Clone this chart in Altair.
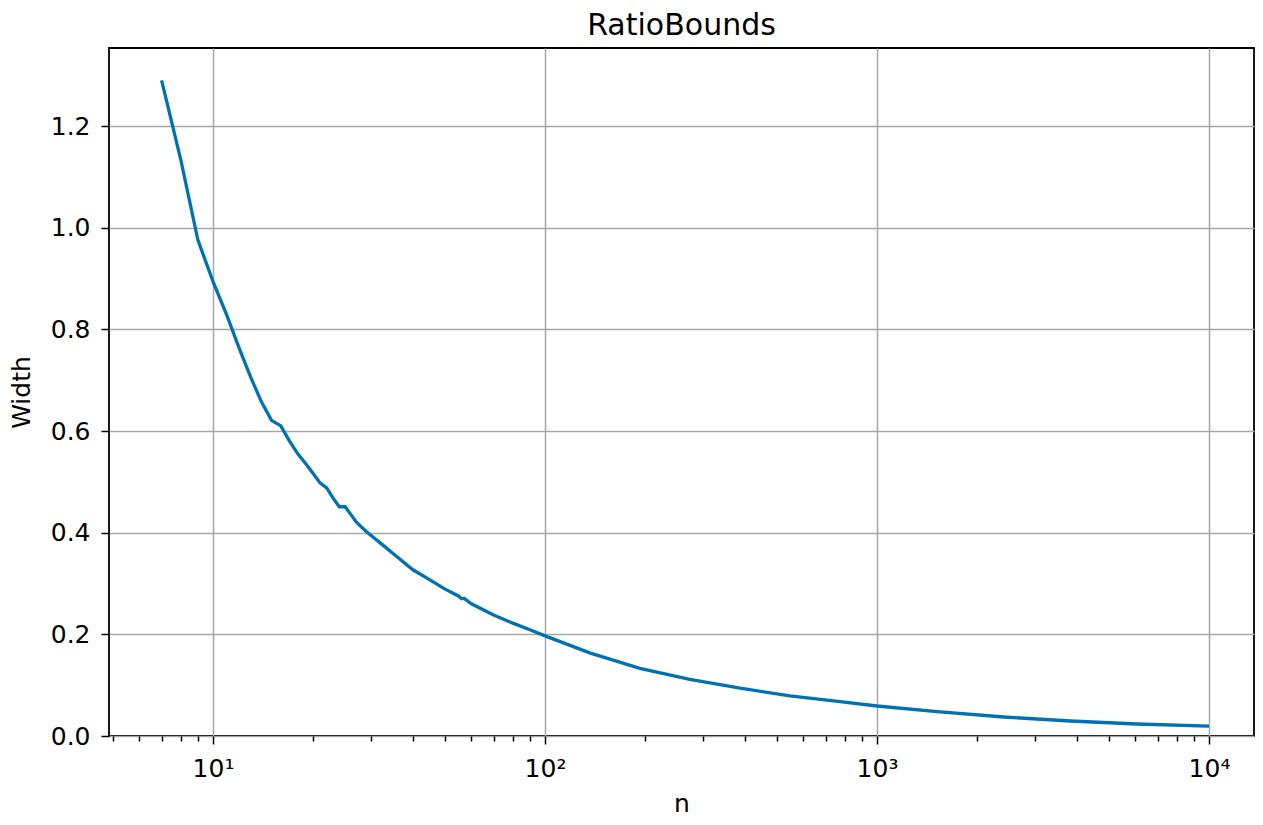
import altair as alt
import pandas as pd

# sample size n and interval width
n_values = [7, 8, 9, 10, 11, 12, 13, 14, 15, 16, 17, 18, 19, 20, 21, 22, 23, 24, 25,
            26, 27, 28, 29, 30, 32, 35, 40, 45, 50, 55, 56, 57, 60, 70, 80, 90, 100,
            137, 193, 273, 387, 547, 774, 1000, 1517, 2408, 3823, 6070, 10000]
widths = [1.290, 1.133, 0.976, 0.894, 0.828, 0.762, 0.705, 0.657, 0.621, 0.610,
          0.580, 0.555, 0.536, 0.517, 0.498, 0.488, 0.468, 0.451, 0.451, 0.436,
          0.421, 0.411, 0.402, 0.394, 0.379, 0.358, 0.327, 0.307, 0.289, 0.275,
          0.270, 0.271, 0.260, 0.238, 0.222, 0.209, 0.197,
          0.163, 0.133, 0.1115, 0.094, 0.079, 0.0675, 0.059, 0.048, 0.0374, 0.0295,
          0.0236, 0.0195]

major_ticks = [10, 100, 1000, 10000]
minor_ticks = [5, 6, 7, 8, 9, 20, 30, 40, 50, 60, 70, 80, 90,
               200, 300, 400, 500, 600, 700, 800, 900,
               2000, 3000, 4000, 5000, 6000, 7000, 8000, 9000]
y_ticks = [0.0, 0.2, 0.4, 0.6, 0.8, 1.0, 1.2]

df = pd.DataFrame({"n": n_values, "w": widths})

FONT = "DejaVu Sans"
major_test = "indexof([10,100,1000,10000], datum.value) >= 0"

x_axis = alt.Axis(
    values=sorted(major_ticks + minor_ticks),
    labelExpr="datum.value==10?'10¹':datum.value==100?'10²':datum.value==1000?'10³':datum.value==10000?'10⁴':''",
    tickSize={"condition": {"test": major_test, "value": 8}, "value": 5},
    gridOpacity={"condition": {"test": major_test, "value": 1}, "value": 0},
    grid=True,
    gridColor="#a8a8a8",
    gridWidth=1.5,
    domain=False,
    tickColor="black",
    tickWidth=1.5,
    labelFont=FONT,
    labelFontSize=25,
    labelColor="black",
    labelPadding=12,
    labelFlush=False,
    labelOverlap=False,
    titleFont=FONT,
    titleFontSize=25,
    titleFontWeight="normal",
    titleColor="black",
    titlePadding=10,
)

y_axis = alt.Axis(
    values=y_ticks,
    format=".1f",
    grid=True,
    gridColor="#a8a8a8",
    gridWidth=1.5,
    domain=False,
    tickColor="black",
    tickWidth=1.5,
    tickSize=8,
    labelFont=FONT,
    labelFontSize=25,
    labelColor="black",
    labelPadding=11,
    labelFlush=False,
    titleFont=FONT,
    titleFontSize=25,
    titleFontWeight="normal",
    titleColor="black",
    titlePadding=16,
)

chart = (
    alt.Chart(df)
    .mark_line(color="#0072B2", strokeWidth=3.3, clip=True)
    .encode(
        x=alt.X("n:Q", title="n",
                scale=alt.Scale(type="log", domain=[4.86, 13660], nice=False, zero=False),
                axis=x_axis),
        y=alt.Y("w:Q", title="Width",
                scale=alt.Scale(domain=[0, 1.3535], nice=False, zero=False),
                axis=y_axis),
    )
    .properties(
        width=1145,
        height=688,
        title=alt.TitleParams("RatioBounds", font=FONT, fontSize=30, fontWeight="normal",
                              color="black", anchor="middle", offset=7),
        autosize=alt.AutoSizeParams(type="none"),
        padding={"left": 101, "top": 40, "right": 1, "bottom": 80},
        background="white",
    )
    .configure_view(stroke="black", strokeWidth=1.8)
)

chart.save("out.html", embed_options={"renderer": "svg", "actions": False})
